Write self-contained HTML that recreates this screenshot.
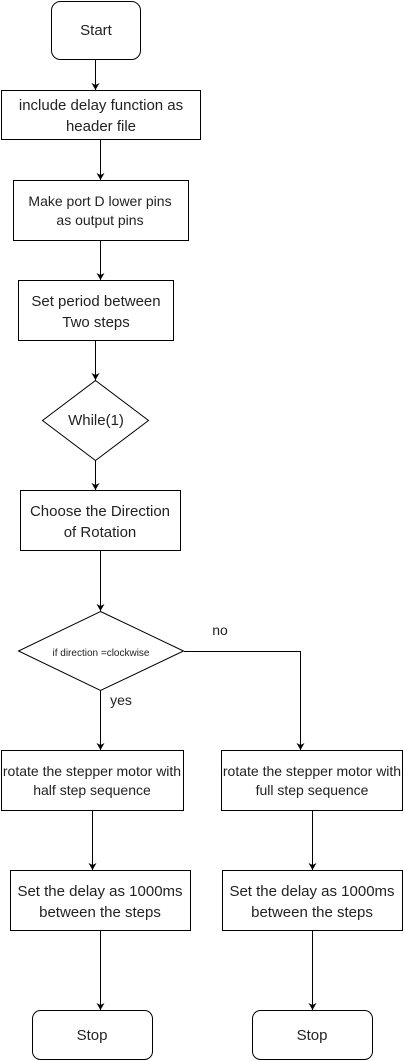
<!DOCTYPE html>
<html><head><meta charset="utf-8"><style>
html,body{margin:0;padding:0;background:#fff;}
svg{display:block;}
text{font-family:"Liberation Sans",Arial,sans-serif;fill:#222;text-anchor:middle;}
.m{font-size:15px;}
.s{font-size:14px;}
.t{font-size:10px;}
</style></head><body>
<svg width="404" height="1061" viewBox="0 0 404 1061" xmlns="http://www.w3.org/2000/svg">
<defs><marker id="a" markerWidth="8" markerHeight="8" refX="7" refY="4" orient="auto" markerUnits="userSpaceOnUse"><path d="M0,0 L7,4 L0,8 L2,4 Z" fill="#000"/></marker></defs>
<g fill="#fff" stroke="#000" stroke-width="1">
<rect x="51.5" y="1.5" width="89" height="58" rx="9"/>
<rect x="1.5" y="90.5" width="199" height="49"/>
<rect x="13.5" y="180.5" width="175" height="60"/>
<rect x="18.5" y="280.5" width="155" height="60"/>
<polygon points="95.5,380.5 148.5,420.5 95.5,460.5 42.5,420.5"/>
<rect x="20.5" y="490.5" width="160" height="60"/>
<polygon points="100.5,611.5 183.5,651 100.5,690.5 18.5,651"/>
<rect x="1.5" y="750.5" width="182" height="60"/>
<rect x="221.5" y="750.5" width="181" height="60"/>
<rect x="10.5" y="870.5" width="180" height="60"/>
<rect x="222.5" y="870.5" width="180" height="60"/>
<rect x="32.5" y="1010.5" width="120" height="49" rx="8"/>
<rect x="252.5" y="1010.5" width="120" height="49" rx="8"/>
</g>
<g stroke="#000" stroke-width="1" fill="none" marker-end="url(#a)">
<line x1="95.5" y1="60" x2="95.5" y2="90"/>
<line x1="100.5" y1="140" x2="100.5" y2="180"/>
<line x1="100.5" y1="241" x2="100.5" y2="280"/>
<line x1="95.5" y1="341" x2="95.5" y2="380"/>
<line x1="95.5" y1="461" x2="95.5" y2="490"/>
<line x1="100.5" y1="551" x2="100.5" y2="611"/>
<line x1="100.5" y1="691" x2="100.5" y2="750"/>
<polyline points="184,651.5 300.5,651.5 300.5,750"/>
<line x1="92.5" y1="811" x2="92.5" y2="870"/>
<line x1="312.5" y1="811" x2="312.5" y2="870"/>
<line x1="100.5" y1="931" x2="100.5" y2="1010"/>
<line x1="312.5" y1="931" x2="312.5" y2="1010"/>
</g>
<text class="m" x="96" y="35">Start</text>
<text class="m" x="101" y="110">include delay function as</text>
<text class="m" x="101" y="131">header file</text>
<text class="s" x="100" y="206">Make port D  lower pins</text>
<text class="s" x="100" y="225">as output pins</text>
<text class="m" x="96" y="306">Set period between</text>
<text class="m" x="96" y="327">Two steps</text>
<text class="m" x="96" y="425">While(1)</text>
<text class="m" x="100" y="516">Choose the Direction</text>
<text class="m" x="100" y="537">of Rotation</text>
<text class="t" x="101" y="656">if direction =clockwise</text>
<text class="s" x="220" y="635">no</text>
<text class="s" x="121" y="705">yes</text>
<text class="s" x="92" y="776">rotate the stepper motor with</text>
<text class="s" x="92" y="795">half step sequence</text>
<text class="s" x="312" y="776">rotate the stepper motor with</text>
<text class="s" x="312" y="795">full step sequence</text>
<text class="m" x="100" y="896">Set the delay as 1000ms</text>
<text class="m" x="100" y="917">between the steps</text>
<text class="m" x="312" y="896">Set the delay as 1000ms</text>
<text class="m" x="312" y="917">between the steps</text>
<text class="m" x="92" y="1040">Stop</text>
<text class="m" x="312" y="1040">Stop</text>
</svg>
</body></html>
